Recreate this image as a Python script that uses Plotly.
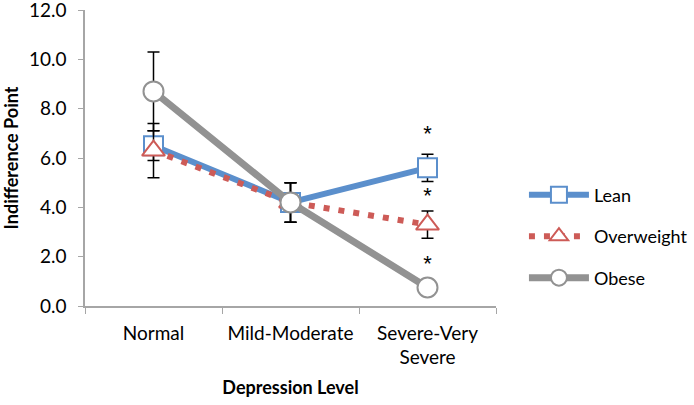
import plotly.graph_objects as go

categories = ["Normal", "Mild-Moderate", "Severe-Very<br>Severe"]
lean = [6.5, 4.2, 5.6]
lean_err = [0.6, 0.8, 0.55]
overweight = [6.3, 4.2, 3.3]
overweight_err = [1.1, 0.8, 0.55]
obese = [8.7, 4.2, 0.75]
obese_err = [1.6, 0.8, 0.0]
sig_y = [6.9, 4.4, 1.65]
sig_x = [categories[2]] * 3
yticks = [0, 2, 4, 6, 8, 10, 12]

FONT = "Lato"

fig = go.Figure()
fig.add_trace(go.Scatter(
    x=categories, y=lean, name="Lean", mode="lines+markers", legendgroup="a",
    line=dict(color="#5B8FCC", width=6),
    marker=dict(symbol="square", size=19, color="white", line=dict(color="#5B8FCC", width=2)),
    error_y=dict(type="data", array=lean_err, color="black", thickness=1.5, width=6),
))
fig.add_trace(go.Scatter(
    x=categories, y=overweight, name="Overweight", mode="lines+markers", legendgroup="b",
    line=dict(color="#CD5B57", width=6, dash="6px,9px"),
    marker=dict(symbol="triangle-up", size=20, color="white", line=dict(color="#CD5B57", width=2)),
    error_y=dict(type="data", array=overweight_err, color="black", thickness=1.5, width=6),
))
fig.add_trace(go.Scatter(
    x=categories, y=obese, name="Obese", mode="lines+markers", legendgroup="c",
    line=dict(color="#929292", width=7),
    marker=dict(symbol="circle", size=20, color="white", line=dict(color="#929292", width=2)),
    error_y=dict(type="data", array=obese_err, color="black", thickness=1.5, width=6),
))
fig.add_trace(go.Scatter(
    x=sig_x, y=sig_y, mode="text", text=["*"] * 3, showlegend=False,
    textfont=dict(family="Liberation Sans", size=22, color="black"), hoverinfo="skip",
))

fig.update_layout(
    width=694, height=405,
    margin=dict(l=85, r=198, t=10, b=99, autoexpand=False),
    plot_bgcolor="white", paper_bgcolor="white",
    font=dict(family=FONT, color="black", size=18),
    legend=dict(x=1.068, y=0.437, xanchor="left", yanchor="top",
                font=dict(size=18), tracegroupgap=15, itemwidth=60),
    showlegend=True,
)
fig.update_xaxes(
    type="category", range=[-0.5, 2.5], showline=True, linecolor="#A6A6A6", linewidth=1.5,
    ticks="outside", tickson="boundaries", ticklen=6, tickcolor="#A6A6A6", tickangle=0,
    tickfont=dict(size=19), showgrid=False, automargin=False, ticklabelstandoff=9,
    title=dict(text="<b>Depression Level</b>", font=dict(size=18), standoff=14),
)
fig.update_yaxes(
    range=[0, 12], tickvals=yticks, tickformat=".1f", showline=True, linecolor="#A6A6A6",
    linewidth=1.5, ticks="outside", ticklen=5, tickcolor="#A6A6A6", showgrid=False,
    tickfont=dict(size=19), zeroline=False, automargin=False, ticklabelstandoff=8,
    ticklabeloverflow="allow",
    title=dict(text="<b>Indifference Point</b>", font=dict(size=18), standoff=19),
)

fig.write_html("out.html", config={"displayModeBar": False},
               post_script="document.body.style.margin='0';document.body.style.overflow='hidden';")
